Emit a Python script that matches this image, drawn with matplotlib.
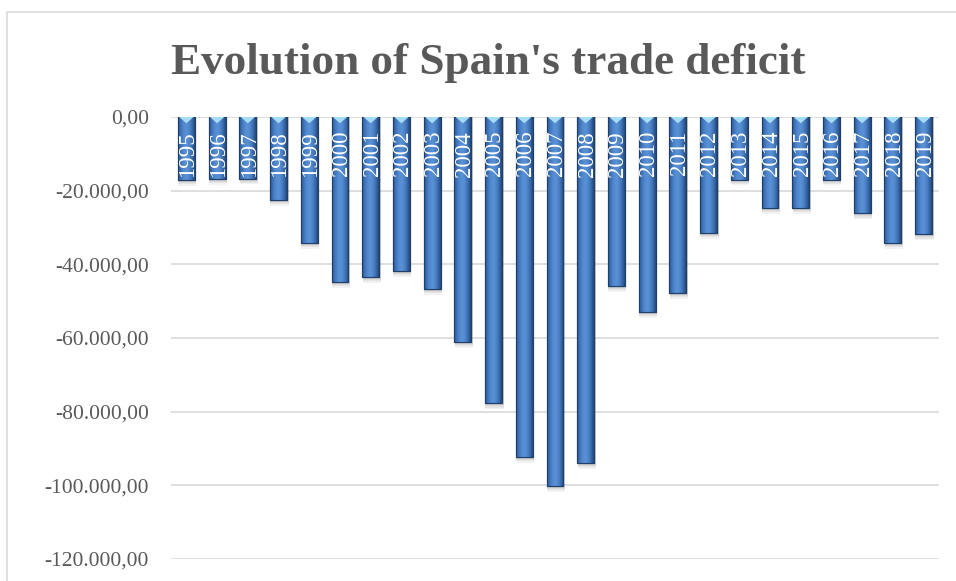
import numpy as np
import matplotlib
matplotlib.use("Agg")
import matplotlib.pyplot as plt
from matplotlib.patches import Rectangle, Polygon
from matplotlib.ticker import FuncFormatter
from matplotlib.colors import LinearSegmentedColormap

years = [str(y) for y in range(1995, 2020)]
balance = [-17100, -16800, -16700, -22500, -34200, -44800, -43400, -41800,
           -46700, -61100, -77700, -92300, -100200, -93900, -45900, -52900,
           -47800, -31500, -17000, -24700, -24700, -17000, -26100, -34200,
           -31800]
yticks = [0, -20000, -40000, -60000, -80000, -100000, -120000]

title_font = "Liberation Serif"
label_gray = "#595959"
grid_gray = "#d9d9d9"


def es_format(v, pos=None):
    # thousands with '.', decimals with ','
    if abs(v) < 0.5:
        v = 0.0
    s = f"{v:,.2f}"
    return s.replace(",", "X").replace(".", ",").replace("X", ".")


fig = plt.figure(figsize=(9.56, 5.81), dpi=100)

# outer chart frame
fig.patches.append(Rectangle((7 / 956, -0.05), 1.2, 1.05 - 12 / 581,
                             transform=fig.transFigure, fill=False,
                             edgecolor=grid_gray, linewidth=1.2))

ax = fig.add_axes([171 / 956, 1 - 559 / 581, 768 / 956, 442 / 581])
x = np.arange(len(years))
width = 0.55

ax.set_xlim(-0.5, len(years) - 0.5)
ax.set_ylim(-120000, 0)
ax.set_yticks(yticks)
ax.yaxis.set_major_formatter(FuncFormatter(es_format))
ax.grid(axis="y", color=grid_gray, linewidth=1.2, zorder=0)
ax.set_axisbelow(True)
ax.set_xticks([])
for sp in ax.spines.values():
    sp.set_visible(False)
ax.tick_params(axis="y", length=0, pad=16, labelsize=15.5, labelcolor=label_gray)
for lbl in ax.get_yticklabels():
    lbl.set_fontfamily("Liberation Serif")

# soft shadow under each bar
for k in range(4):
    ax.bar(x + 0.03, np.array(balance) - 500 - k * 350, width=width + 0.04,
           color="#000000", alpha=0.05, linewidth=0, zorder=1)

bars = ax.bar(x, balance, width=width, color="#4a7fc2",
              edgecolor="#1f3f6b", linewidth=0.8, zorder=2)

# cylinder-like horizontal shading clipped to each bar
cmap = LinearSegmentedColormap.from_list(
    "barshade", ["#2a5892", "#3f74b9", "#5289cf", "#5a92d6", "#4f85c9",
                 "#3a6cae", "#24497c"])
grad = np.linspace(0, 1, 64).reshape(1, -1)
for b in bars:
    im = ax.imshow(grad, cmap=cmap, aspect="auto", zorder=2.5,
                   extent=[b.get_x(), b.get_x() + b.get_width(),
                           b.get_y() + b.get_height(), b.get_y()])
    im.set_clip_path(b)
    edge = Rectangle((b.get_x(), b.get_y()), b.get_width(), b.get_height(),
                     fill=False, edgecolor="#1f3f6b", linewidth=0.8, zorder=3)
    ax.add_patch(edge)
    # light bevel notch at the bar top
    cx = b.get_x() + b.get_width() / 2
    ax.add_patch(Polygon([(b.get_x() + 0.04, 0), (b.get_x() + b.get_width() - 0.04, 0),
                          (cx, -1700)], closed=True, facecolor="#a7dcf6",
                         edgecolor="none", zorder=3.5))

ax.set_xlim(-0.5, len(years) - 0.5)
ax.set_ylim(-120000, 0)

# year labels inside the bars, reading upward from below the top
for xi, yr in zip(x, years):
    ax.annotate(yr, (xi, 0), xytext=(1, -10), textcoords="offset points",
                rotation=90, ha="center", va="top", color="white",
                fontsize=16.5, family="Liberation Serif", zorder=5)

fig.text(0.511, 0.892, "Evolution of Spain's trade deficit", ha="center",
         va="center", fontsize=32.5, fontweight="bold", color=label_gray,
         family=title_font)

fig.savefig("out.png", dpi=100)
